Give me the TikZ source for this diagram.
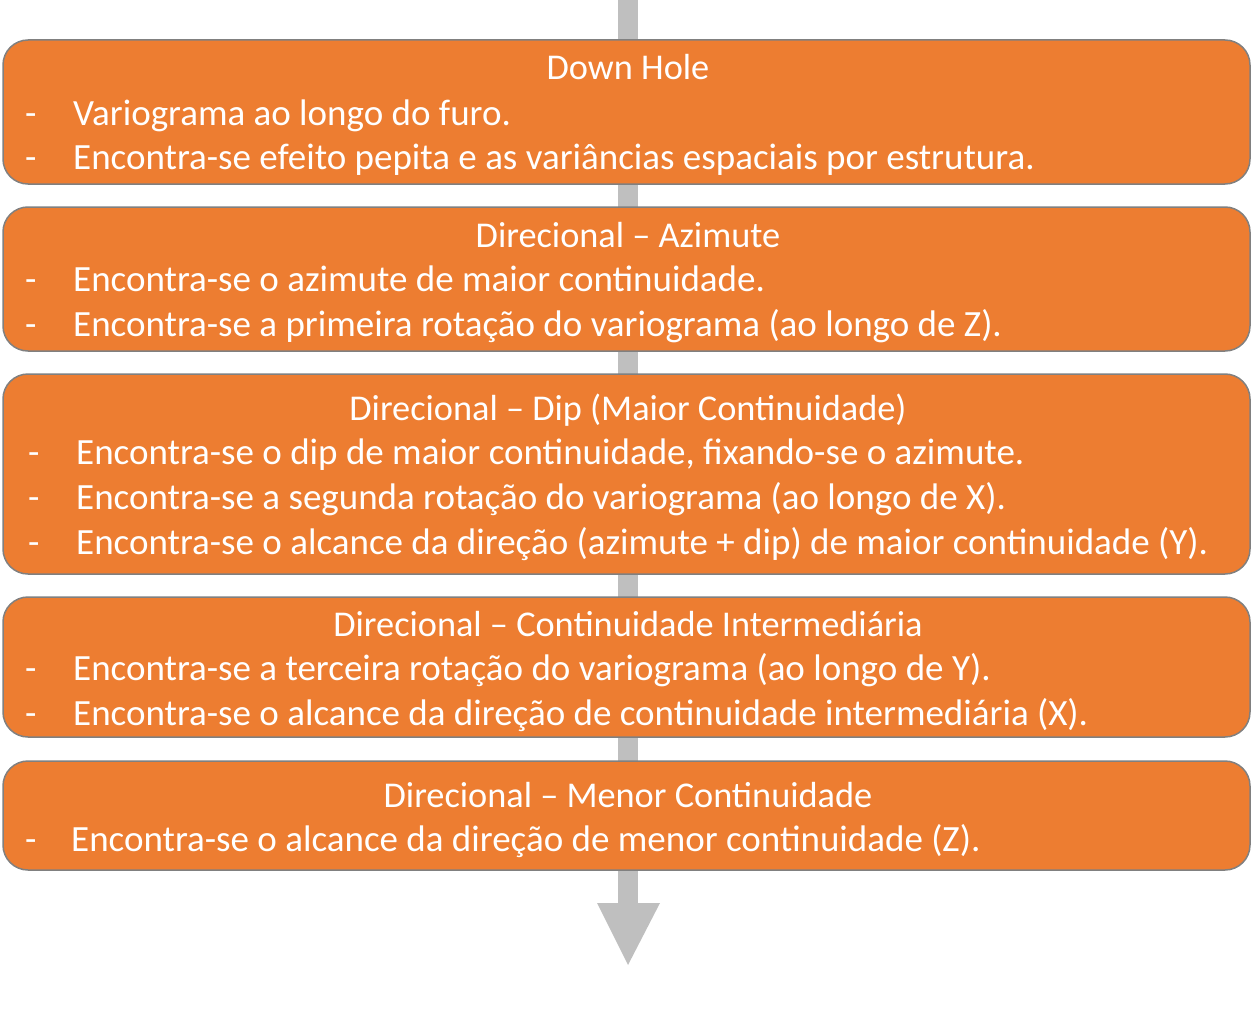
\documentclass[tikz,border=0pt]{standalone}
\usepackage{fontspec}
\setmainfont{Carlito}
\begin{document}
\begin{tikzpicture}[x=1pt,y=-1pt,
  box/.style={draw=black!50,line width=1.5pt,fill=orangebox,rounded corners=25pt},
  ttl/.style={anchor=base,text=white,font=\fontsize{36.3}{42}\selectfont,inner sep=0pt},
  dashtxt/.style={anchor=base west,text=white,font=\fontsize{37}{42}\selectfont,inner sep=0pt},
  line/.style={anchor=base west,text=white,font=\fontsize{37}{42}\selectfont,inner sep=0pt},
]
\definecolor{orangebox}{HTML}{ED7D31}
\definecolor{arrowgray}{HTML}{BFBFBF}
\useasboundingbox (0,0) rectangle (1252,1030);
% arrow
\coordinate (atop) at (628,0);
\coordinate (abase) at (628,903);
\coordinate (atip) at (628,965);
\fill[arrowgray] (618,0) rectangle (638,904);
\fill[arrowgray] (597,903) -- (660,903) -- (atip) -- cycle;
% boxes
\draw[box] (3,40) rectangle (1250,184);
\draw[box] (3,207) rectangle (1250,351);
\draw[box] (3,374) rectangle (1250,574);
\draw[box] (3,597) rectangle (1250,737);
\draw[box] (3,761) rectangle (1250,870);
% box 1
\node[ttl] (t1) at (628,80) {Down Hole};
\node[dashtxt] (d11) at (25,125) {-};
\node[line] (l11) at (73,125) {Variograma ao longo do furo.};
\node[dashtxt] (d12) at (25,169) {-};
\node[line] (l12) at (73,169) {Encontra-se efeito pepita e as variâncias espaciais por estrutura.};
% box 2
\node[ttl] (t2) at (628,247) {Direcional – Azimute};
\node[dashtxt] (d21) at (25,291) {-};
\node[line] (l21) at (73,291) {Encontra-se o azimute de maior continuidade.};
\node[dashtxt] (d22) at (25,336) {-};
\node[line] (l22) at (73,336) {Encontra-se a primeira rotação do variograma (ao longo de Z).};
% box 3
\node[ttl] (t3) at (628,420) {Direcional – Dip (Maior Continuidade)};
\node[dashtxt] (d31) at (28,464) {-};
\node[line] (l31) at (76,464) {Encontra-se o dip de maior continuidade, fixando-se o azimute.};
\node[dashtxt] (d32) at (28,509) {-};
\node[line] (l32) at (76,509) {Encontra-se a segunda rotação do variograma (ao longo de X).};
\node[dashtxt] (d33) at (28,554) {-};
\node[line] (l33) at (76,554) {Encontra-se o alcance da direção (azimute + dip) de maior continuidade (Y).};
% box 4
\node[ttl] (t4) at (628,636) {Direcional – Continuidade Intermediária};
\node[dashtxt] (d41) at (25,680) {-};
\node[line] (l41) at (73,680) {Encontra-se a terceira rotação do variograma (ao longo de Y).};
\node[dashtxt] (d42) at (25,725) {-};
\node[line] (l42) at (73,725) {Encontra-se o alcance da direção de continuidade intermediária (X).};
% box 5
\node[ttl] (t5) at (628,807) {Direcional – Menor Continuidade};
\node[dashtxt] (d51) at (25,851) {-};
\node[line] (l51) at (71,851) {Encontra-se o alcance da direção de menor continuidade (Z).};
\end{tikzpicture}
\end{document}
